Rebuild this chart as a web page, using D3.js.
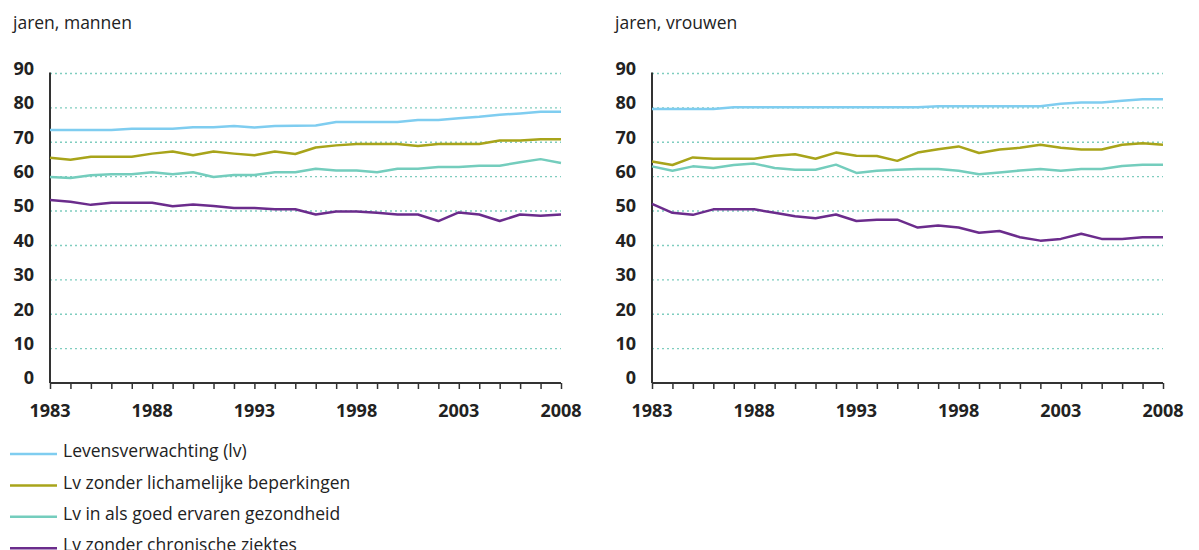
<!DOCTYPE html>
<html>
<head>
<meta charset="utf-8">
<script src="https://cdn.jsdelivr.net/npm/d3@7"></script>
<style>
  body { margin: 0; background: #fff; }
  text { font-family: "Open Sans", "Noto Sans", sans-serif; }
</style>
</head>
<body>
<div id="my_dataviz"></div>
<script>
// data
var years = d3.range(1983, 2009);
var yTicks = [0, 10, 20, 30, 40, 50, 60, 70, 80, 90];
var xLabels = [1983, 1988, 1993, 1998, 2003, 2008];
var seriesNames = ["Levensverwachting (lv)", "Lv zonder lichamelijke beperkingen",
                   "Lv in als goed ervaren gezondheid", "Lv zonder chronische ziektes"];
var seriesColors = ["#7fcdf0", "#a8a41a", "#74cdbd", "#6b2c8c"];

var menLv       = [73.6, 73.6, 73.6, 73.6, 73.9, 73.9, 73.9, 74.4, 74.4, 74.7, 74.3, 74.7, 74.8,
                   74.9, 75.9, 75.9, 75.9, 75.9, 76.5, 76.5, 77.0, 77.4, 78.0, 78.4, 78.9, 78.9];
var menPhys     = [65.5, 64.9, 65.8, 65.8, 65.8, 66.7, 67.3, 66.2, 67.3, 66.7, 66.2, 67.3, 66.6,
                   68.5, 69.1, 69.5, 69.5, 69.5, 68.9, 69.5, 69.5, 69.5, 70.5, 70.5, 70.9, 70.9];
var menHealth   = [59.9, 59.6, 60.4, 60.7, 60.7, 61.3, 60.7, 61.3, 59.9, 60.5, 60.5, 61.3, 61.3,
                   62.3, 61.8, 61.8, 61.3, 62.3, 62.3, 62.8, 62.8, 63.2, 63.2, 64.2, 65.1, 64.0];
var menChronic  = [53.2, 52.7, 51.8, 52.4, 52.4, 52.4, 51.4, 51.9, 51.5, 50.9, 50.9, 50.5, 50.5,
                   49.0, 49.9, 49.9, 49.5, 49.0, 49.0, 47.1, 49.6, 49.0, 47.1, 49.0, 48.6, 49.0];

var womenLv      = [79.7, 79.7, 79.7, 79.7, 80.2, 80.2, 80.2, 80.2, 80.2, 80.2, 80.2, 80.2, 80.2,
                    80.2, 80.5, 80.5, 80.5, 80.5, 80.5, 80.5, 81.2, 81.6, 81.6, 82.1, 82.5, 82.5];
var womenPhys    = [64.4, 63.4, 65.6, 65.2, 65.2, 65.2, 66.1, 66.5, 65.2, 67.0, 66.1, 66.0, 64.6,
                    67.0, 68.0, 68.8, 66.9, 67.9, 68.4, 69.3, 68.4, 67.9, 67.9, 69.3, 69.7, 69.3];
var womenHealth  = [63.0, 61.7, 63.0, 62.5, 63.4, 63.8, 62.5, 62.0, 62.0, 63.5, 61.1, 61.7, 62.0,
                    62.2, 62.2, 61.7, 60.7, 61.2, 61.8, 62.2, 61.7, 62.2, 62.2, 63.1, 63.5, 63.5];
var womenChronic = [52.1, 49.5, 48.9, 50.5, 50.5, 50.5, 49.5, 48.5, 47.9, 49.0, 47.1, 47.5, 47.5,
                    45.2, 45.8, 45.2, 43.7, 44.2, 42.4, 41.4, 41.9, 43.4, 41.9, 41.9, 42.4, 42.4];

var panels = [
  {title: "jaren, mannen", left: 50, series: [menLv, menPhys, menHealth, menChronic]},
  {title: "jaren, vrouwen", left: 652, series: [womenLv, womenPhys, womenHealth, womenChronic]}
];

var width = 1199, height = 550;
var plotW = 511, plotTop = 73.5, plotBottom = 383;

var svg = d3.select("#my_dataviz")
  .append("svg")
    .attr("width", width)
    .attr("height", height);

var y = d3.scaleLinear().domain([0, 90]).range([plotBottom, plotTop]);

panels.forEach(function(p) {
  var g = svg.append("g").attr("transform", "translate(" + p.left + ",0)");
  var x = d3.scaleLinear().domain([1983, 2008]).range([0, plotW]);

  // title
  g.append("text")
    .attr("x", -37)
    .attr("y", 29)
    .style("font-size", "17.5px")
    .style("fill", "#222")
    .text(p.title);

  // dotted gridlines
  g.selectAll(".grid")
    .data(yTicks.filter(function(d) { return d > 0; }))
    .enter().append("line")
      .attr("x1", 0).attr("x2", plotW)
      .attr("y1", function(d) { return y(d); })
      .attr("y2", function(d) { return y(d); })
      .attr("stroke", "#7fcdbf")
      .attr("stroke-width", 1.4)
      .attr("stroke-dasharray", "2,3");

  // y labels
  g.selectAll(".ylab")
    .data(yTicks)
    .enter().append("text")
      .attr("x", -16)
      .attr("y", function(d) { return y(d) - 5; })
      .attr("dy", "0.35em")
      .attr("text-anchor", "end")
      .style("font-size", "18px")
      .style("font-weight", "bold")
      .style("fill", "#222")
      .text(function(d) { return d; });

  // x axis with a tick every year
  var xAxis = g.append("g")
    .attr("transform", "translate(0," + plotBottom + ")")
    .call(d3.axisBottom(x).tickValues(years).tickSize(6).tickFormat(""));
  xAxis.select(".domain").attr("stroke", "#333").attr("stroke-width", 2)
    .attr("d", "M0,0H" + plotW);
  xAxis.selectAll(".tick line").attr("stroke", "#333").attr("stroke-width", 1.5);

  g.selectAll(".xlab")
    .data(xLabels)
    .enter().append("text")
      .attr("x", function(d) { return x(d); })
      .attr("y", 417)
      .attr("text-anchor", "middle")
      .style("font-size", "18px")
      .style("font-weight", "bold")
      .style("fill", "#222")
      .text(function(d) { return d; });

  // y axis line
  g.append("line")
    .attr("x1", 0).attr("x2", 0)
    .attr("y1", plotTop - 1).attr("y2", plotBottom)
    .attr("stroke", "#333")
    .attr("stroke-width", 2);

  // series lines
  p.series.forEach(function(vals, i) {
    g.append("path")
      .datum(vals)
      .attr("fill", "none")
      .attr("stroke", seriesColors[i])
      .attr("stroke-width", 2.5)
      .attr("stroke-linejoin", "round")
      .attr("d", d3.line()
        .x(function(d, j) { return x(years[j]); })
        .y(function(d) { return y(d); }));
  });
});

// legend
var legend = svg.selectAll(".legend")
  .data(seriesNames)
  .enter().append("g")
    .attr("transform", function(d, i) { return "translate(10," + (454 + i * 31.4) + ")"; });

legend.append("line")
  .attr("x1", 0).attr("x2", 47)
  .attr("y1", 0).attr("y2", 0)
  .attr("stroke", function(d, i) { return seriesColors[i]; })
  .attr("stroke-width", 2.5);

legend.append("text")
  .attr("x", 53)
  .attr("y", -3)
  .attr("dy", "0.35em")
  .style("font-size", "17.5px")
  .style("fill", "#222")
  .text(function(d) { return d; });
</script>
</body>
</html>
